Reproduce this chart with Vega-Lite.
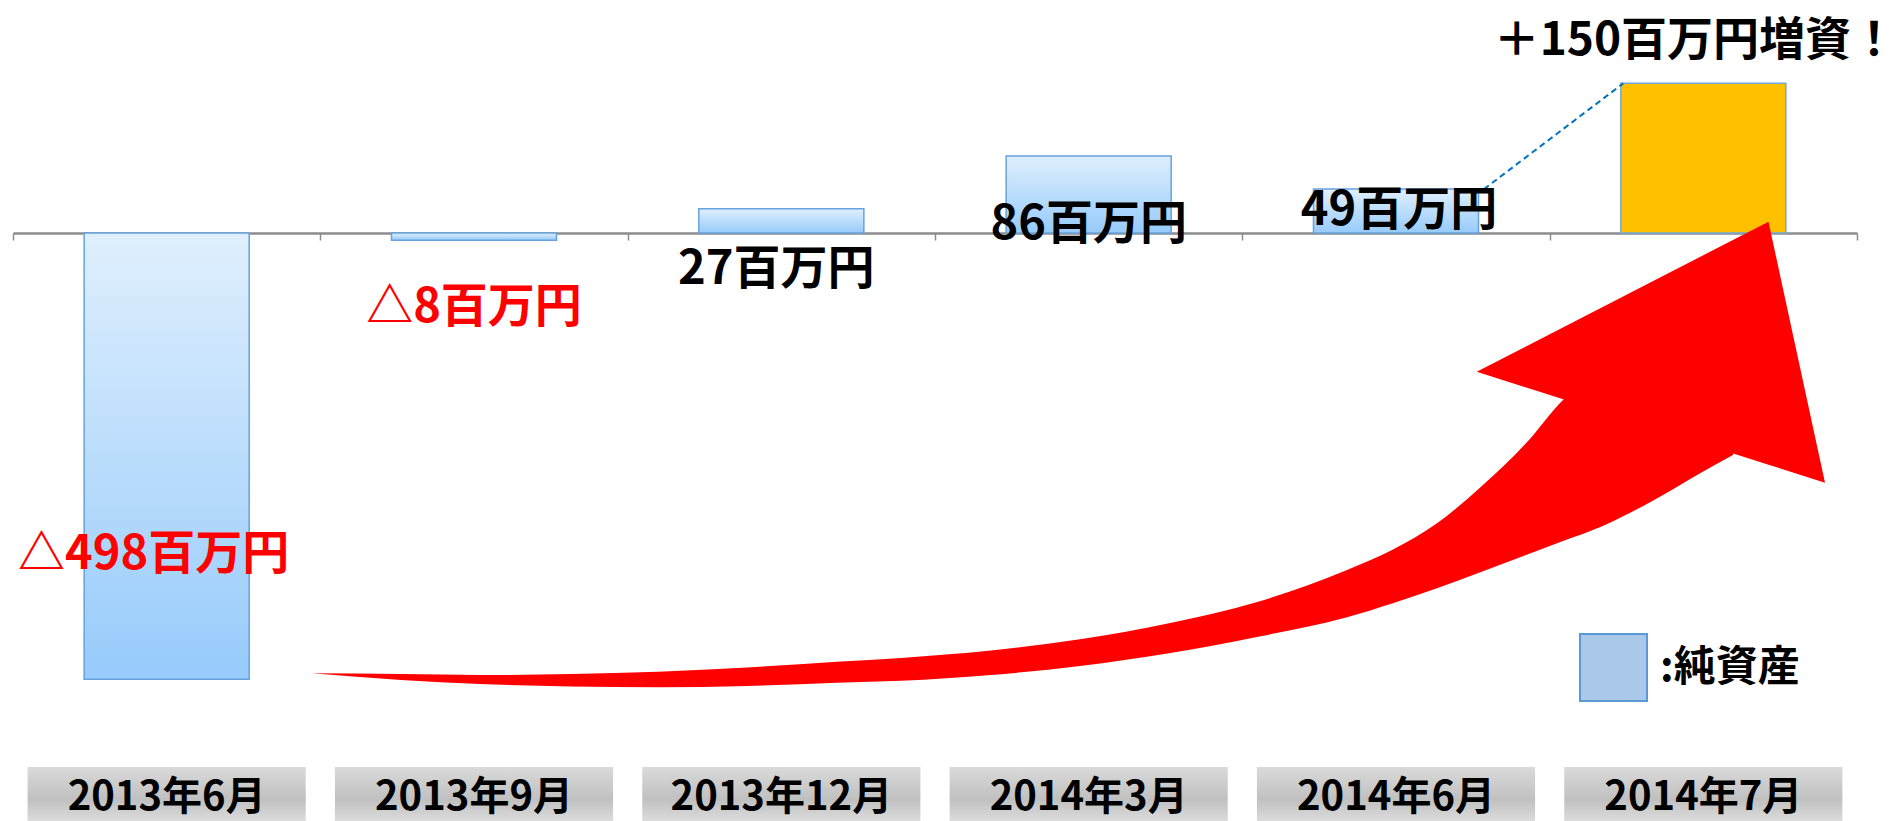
{
  "$schema": "https://vega.github.io/schema/vega-lite/v6.json",
  "background": "white",
  "padding": {"left": 12, "top": 0, "right": 40, "bottom": 0},
  "spacing": 47,
  "bounds": "flush",
  "config": {"view": {"stroke": null}},
  "datasets": {
    "main": [
      {"period": "2013年6月", "value": -498, "kind": "純資産", "label": "△498百万円"},
      {"period": "2013年9月", "value": -8, "kind": "純資産", "label": "△8百万円"},
      {"period": "2013年12月", "value": 27, "kind": "純資産", "label": "27百万円"},
      {"period": "2014年3月", "value": 86, "kind": "純資産", "label": "86百万円"},
      {"period": "2014年6月", "value": 49, "kind": "純資産", "label": "49百万円"},
      {"period": "2014年7月", "value": 167, "kind": "増資", "label": "＋150百万円増資！"}
    ],
    "connector": [
      {"from": "2014年6月", "to": "2014年7月", "start": 49, "end": 167}
    ],
    "arrowBody": [
      {"pos": 0.9729, "top": -491.3, "bottom": -491.3},
      {"pos": 1.2625, "top": -492.1, "bottom": -498.8},
      {"pos": 1.5195, "top": -493.2, "bottom": -503.2},
      {"pos": 1.8156, "top": -492.1, "bottom": -506.0},
      {"pos": 2.0987, "top": -489.5, "bottom": -506.9},
      {"pos": 2.3883, "top": -484.8, "bottom": -505.5},
      {"pos": 2.6811, "top": -478.4, "bottom": -501.8},
      {"pos": 2.8894, "top": -474.2, "bottom": -499.6},
      {"pos": 3.1822, "top": -465.9, "bottom": -493.2},
      {"pos": 3.4718, "top": -453.4, "bottom": -483.2},
      {"pos": 3.7614, "top": -435.5, "bottom": -469.0},
      {"pos": 4.0510, "top": -411.4, "bottom": -450.5},
      {"pos": 4.3406, "top": -376.0, "bottom": -428.8},
      {"pos": 4.4870, "top": -353.7, "bottom": -413.4},
      {"pos": 4.6334, "top": -323.9, "bottom": -396.5},
      {"pos": 4.7766, "top": -283.1, "bottom": -378.3},
      {"pos": 4.9230, "top": -234.7, "bottom": -359.3},
      {"pos": 5.0434, "top": -186.3, "bottom": -343.7},
      {"pos": 5.1670, "top": -152.9, "bottom": -327.7},
      {"pos": 5.3297, "top": -130.6, "bottom": -299.8},
      {"pos": 5.4924, "top": -117.2, "bottom": -267.5},
      {"pos": 5.5965, "top": -108.2, "bottom": -247.7}
    ],
    "arrowHead": [
      {"pos": 4.7626, "top": -154.8, "bottom": -154.8},
      {"pos": 5.7120, "top": 12.6, "bottom": -258.5},
      {"pos": 5.8959, "top": -278.6, "bottom": -278.6}
    ]
  },
  "vconcat": [
    {
      "width": 1844,
      "height": 720,
      "resolve": {"scale": {"x": "independent"}},
      "layer": [
        {
          "data": {"name": "main"},
          "encoding": {
            "x": {
              "field": "period", "type": "nominal",
              "scale": {"domain": ["2013年6月", "2013年9月", "2013年12月", "2014年3月", "2014年6月", "2014年7月"], "paddingInner": 0, "paddingOuter": 0},
              "axis": {"title": null, "labels": false, "grid": false, "domainColor": "#8c8c8c", "domainWidth": 2.5, "tickColor": "#8c8c8c", "tickWidth": 1.5, "tickSize": 7, "tickBand": "extent", "offset": -487}
            },
            "y": {
              "field": "value", "type": "quantitative",
              "scale": {"domain": [-543.4, 260], "nice": false, "zero": false},
              "axis": null
            }
          },
          "layer": [
            {
              "transform": [{"filter": "datum.kind === '純資産'"}],
              "mark": {
                "type": "bar", "width": {"band": 0.537},
                "fill": {"gradient": "linear", "x1": 0, "y1": 0, "x2": 0, "y2": 1, "stops": [{"offset": 0, "color": "#dfeffd"}, {"offset": 1, "color": "#97cbfb"}]},
                "stroke": "#66a3dc", "strokeWidth": 1.5
              },
              "encoding": {"y2": {"datum": 0}}
            },
            {
              "transform": [{"filter": "datum.kind === '増資'"}],
              "mark": {"type": "bar", "width": {"band": 0.537}, "stroke": "#6fa8dc", "strokeWidth": 1.5, "opacity": 1},
              "encoding": {
                "y2": {"datum": 0},
                "color": {
                  "field": "kind", "type": "nominal",
                  "scale": {"domain": ["純資産", "増資"], "range": ["#a9c8ea", "#FFC000"]},
                  "legend": {
                    "values": ["純資産"], "orient": "none", "legendX": 1566, "legendY": 633,
                    "title": null, "symbolType": "square", "symbolSize": 4489,
                    "symbolStrokeWidth": 2, "symbolStrokeColor": "#5b9bd5",
                    "labelFontSize": 42, "labelFont": "Noto Sans CJK JP", "labelFontWeight": "bold",
                    "labelColor": "black", "labelExpr": "':' + datum.label", "labelOffset": 12,
                    "encode": {"symbols": {"update": {
                      "fill": {"value": {"gradient": "linear", "x1": 0, "y1": 0, "x2": 0, "y2": 1, "stops": [{"offset": 0, "color": "#c3d8f1"}, {"offset": 1, "color": "#8fb3df"}]}},
                      "stroke": {"value": "#5b9bd5"},
                      "opacity": {"value": 1}
                    }}}
                  }
                }
              }
            },
            {
              "data": {"name": "connector"},
              "mark": {"type": "rule", "color": "#0070c0", "strokeWidth": 2, "strokeDash": [6, 4], "xOffset": 88, "x2Offset": -80},
              "encoding": {
                "x": {"field": "from", "type": "nominal", "scale": {"domain": ["2013年6月", "2013年9月", "2013年12月", "2014年3月", "2014年6月", "2014年7月"], "paddingInner": 0, "paddingOuter": 0}},
                "x2": {"field": "to"},
                "y": {"field": "start", "type": "quantitative", "scale": {"domain": [-543.4, 260], "nice": false, "zero": false}},
                "y2": {"field": "end"}
              }
            },
            {
              "transform": [{"filter": "datum.period === '2013年6月'"}],
              "mark": {"type": "text", "font": "Noto Sans CJK JP", "fontWeight": "bold", "fontSize": 47, "color": "#ff0000", "dx": -13, "dy": -124},
              "encoding": {"text": {"field": "label"}}
            },
            {
              "transform": [{"filter": "datum.period === '2013年9月'"}],
              "mark": {"type": "text", "font": "Noto Sans CJK JP", "fontWeight": "bold", "fontSize": 47, "color": "#ff0000", "dx": 0, "dy": 68},
              "encoding": {"text": {"field": "label"}}
            },
            {
              "transform": [{"filter": "datum.period === '2013年12月'"}],
              "mark": {"type": "text", "font": "Noto Sans CJK JP", "fontWeight": "bold", "fontSize": 47, "color": "black", "dx": -5, "dy": 61},
              "encoding": {"text": {"field": "label"}}
            },
            {
              "transform": [{"filter": "datum.period === '2014年3月'"}],
              "mark": {"type": "text", "font": "Noto Sans CJK JP", "fontWeight": "bold", "fontSize": 47, "color": "black", "dx": 0, "dy": 69},
              "encoding": {"text": {"field": "label"}}
            },
            {
              "transform": [{"filter": "datum.period === '2014年6月'"}],
              "mark": {"type": "text", "font": "Noto Sans CJK JP", "fontWeight": "bold", "fontSize": 47, "color": "black", "dx": 3, "dy": 22},
              "encoding": {"text": {"field": "label"}}
            },
            {
              "transform": [{"filter": "datum.period === '2014年7月'"}],
              "mark": {"type": "text", "font": "Noto Sans CJK JP", "fontWeight": "bold", "fontSize": 46, "color": "black", "dx": -8, "dy": -42},
              "encoding": {"text": {"field": "label"}}
            }
          ]
        },
        {
          "encoding": {
            "x": {"field": "pos", "type": "quantitative", "scale": {"domain": [0, 6], "nice": false, "zero": false}, "axis": null},
            "y": {"field": "top", "type": "quantitative", "scale": {"domain": [-543.4, 260], "nice": false, "zero": false}, "axis": null},
            "y2": {"field": "bottom"}
          },
          "layer": [
            {
              "data": {"name": "arrowBody"},
              "mark": {"type": "area", "orient": "vertical", "interpolate": "monotone", "color": "#ff0000", "opacity": 1}
            },
            {
              "data": {"name": "arrowHead"},
              "mark": {"type": "area", "orient": "vertical", "interpolate": "linear", "color": "#ff0000", "opacity": 1}
            }
          ]
        }
      ]
    },
    {
      "width": 1844,
      "height": 54,
      "data": {"name": "main"},
      "encoding": {
        "x": {
          "field": "period", "type": "nominal",
          "scale": {"domain": ["2013年6月", "2013年9月", "2013年12月", "2014年3月", "2014年6月", "2014年7月"], "paddingInner": 0, "paddingOuter": 0},
          "axis": null
        }
      },
      "layer": [
        {
          "mark": {
            "type": "bar", "width": {"band": 0.905},
            "fill": {"gradient": "linear", "x1": 0, "y1": 0, "x2": 0, "y2": 1, "stops": [{"offset": 0, "color": "#dadada"}, {"offset": 0.6, "color": "#c0c0c0"}, {"offset": 1, "color": "#dcdcdc"}]}
          }
        },
        {
          "mark": {"type": "text", "font": "Noto Sans CJK JP", "fontWeight": "bold", "fontSize": 40, "color": "black", "dy": 4},
          "encoding": {"text": {"field": "period"}}
        }
      ]
    }
  ]
}
